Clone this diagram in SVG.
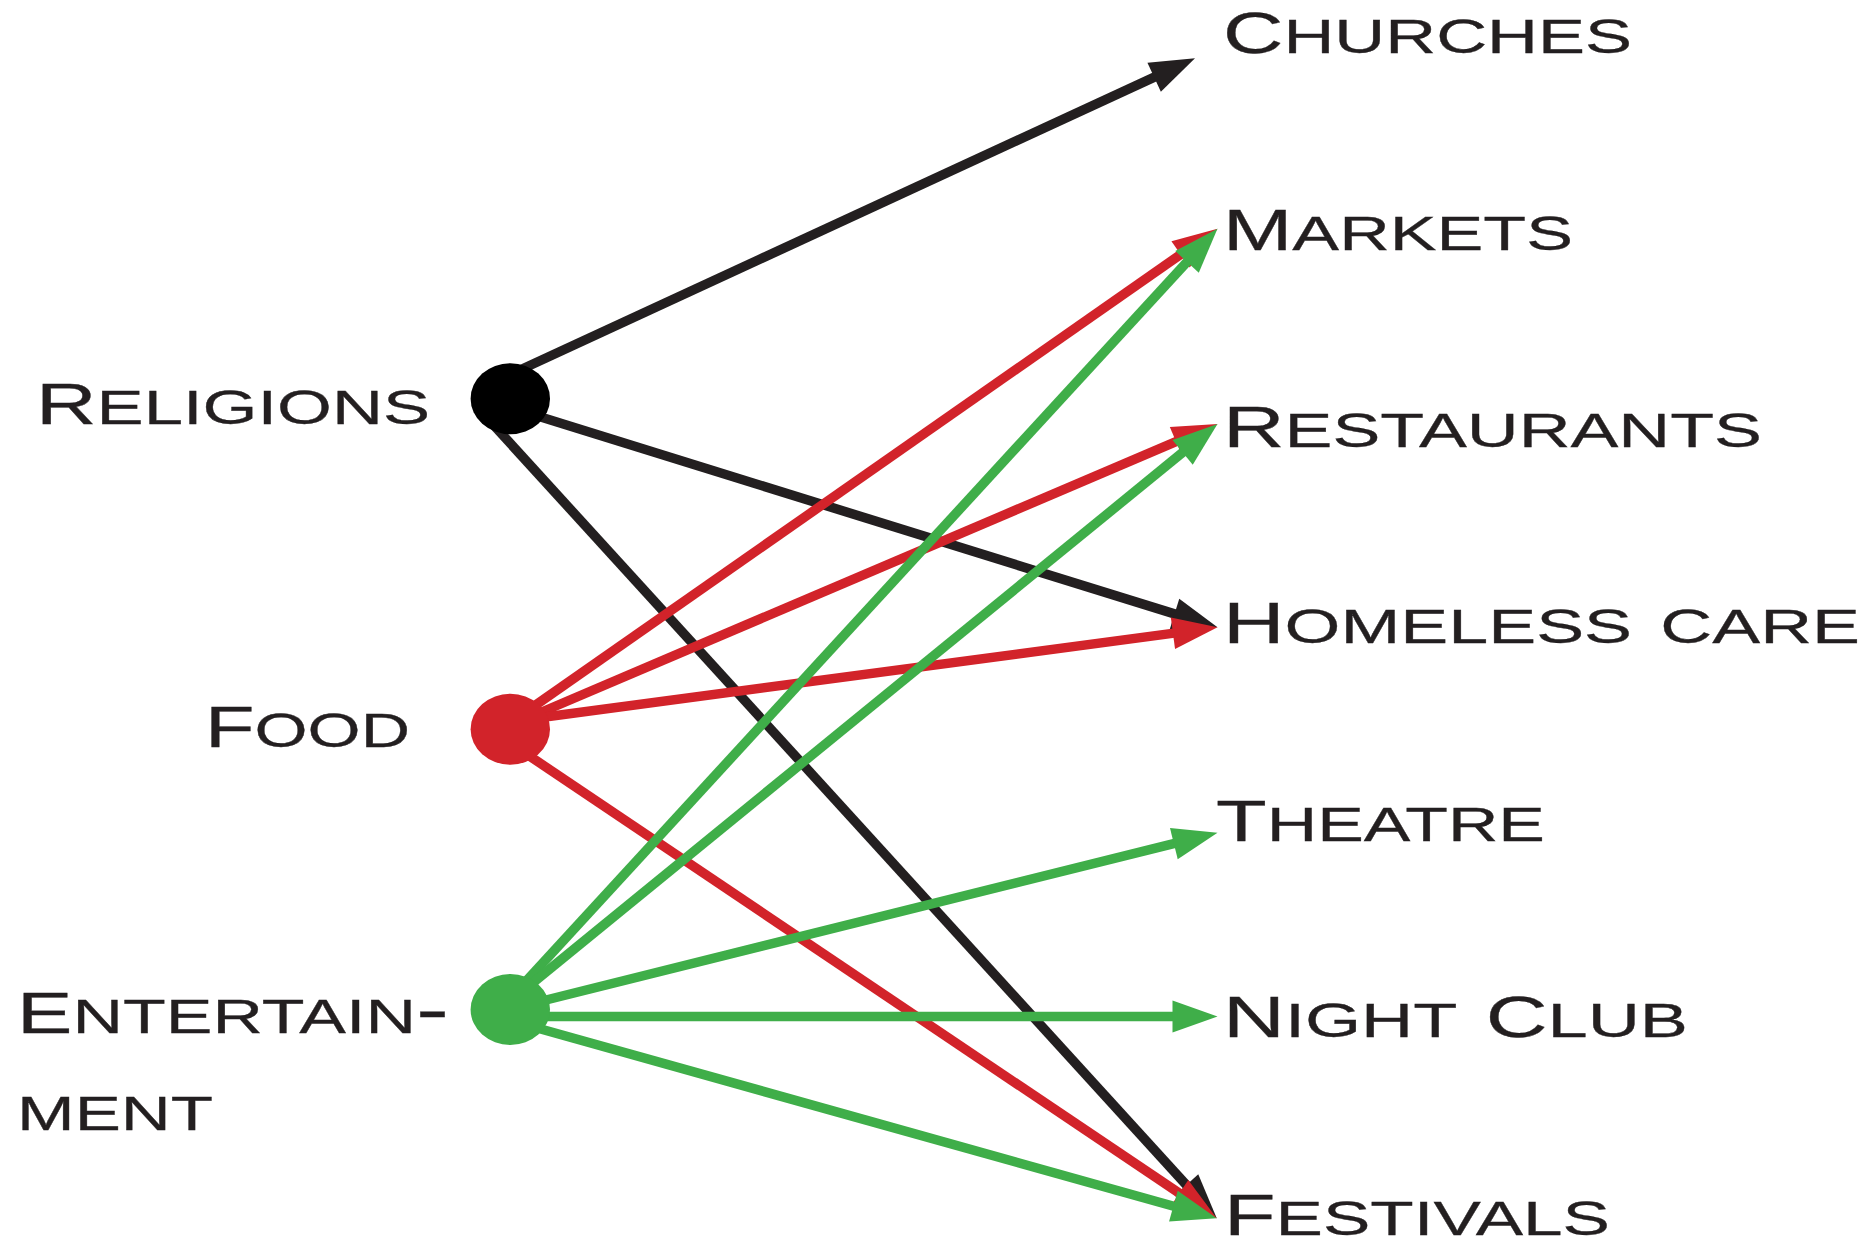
<svg xmlns="http://www.w3.org/2000/svg" width="1865" height="1243" viewBox="0 0 1865 1243">
<style>
.lbl{font-family:"Liberation Sans",Arial,sans-serif;font-size:68px;font-variant:small-caps;fill:#231f20;stroke:#231f20;stroke-width:0.3px}
.C{font-size:57px;font-variant:normal}
.ln{fill:none;stroke-width:9.5;stroke-linecap:butt}
.k{stroke:#231f20;marker-end:url(#ak)}
.r{stroke:#d2232a;marker-end:url(#ar)}
.g{stroke:#3fae49;marker-end:url(#ag)}
</style>
<defs>
<marker id="ak" markerUnits="userSpaceOnUse" markerWidth="46" markerHeight="33" refX="5" refY="16" orient="auto" overflow="visible"><path d="M0,0 L45,16 L0,32 Z" fill="#231f20"/></marker>
<marker id="ar" markerUnits="userSpaceOnUse" markerWidth="46" markerHeight="33" refX="5" refY="16" orient="auto" overflow="visible"><path d="M0,0 L45,16 L0,32 Z" fill="#d2232a"/></marker>
<marker id="ag" markerUnits="userSpaceOnUse" markerWidth="46" markerHeight="33" refX="5" refY="16" orient="auto" overflow="visible"><path d="M0,0 L45,16 L0,32 Z" fill="#3fae49"/></marker>
</defs>
<rect width="1865" height="1243" fill="#ffffff"/>
<g id="connectors">
<path class="ln k" d="M520,370 L1158.7,75.1"/>
<path class="ln k" d="M515,409 L1179.3,615.4"/>
<path class="ln k" d="M489,420 L1189.8,1188.7"/>
<path class="ln r" d="M530,709 L1184.7,251.6"/>
<path class="ln r" d="M530,717 L1180.7,439.7"/>
<path class="ln r" d="M530,719 L1177.9,632.6"/>
<path class="ln r" d="M525,753 L1183.5,1196"/>
<path class="ln g" d="M518,990 L1190.4,258.2"/>
<path class="ln g" d="M524,990 L1186.5,449.3"/>
<path class="ln g" d="M530,1004 L1178.7,842.4"/>
<path class="ln g" d="M530,1016.5 L1177.5,1016.5"/>
<path class="ln g" d="M530,1026 L1178.2,1207.5"/>
</g>
<g id="religions">
<ellipse cx="510.3" cy="398.7" rx="39.7" ry="35.5" fill="#000000"/>
<text class="lbl" x="36" y="424" textLength="394" lengthAdjust="spacingAndGlyphs"><tspan class="C">R</tspan>eligions</text>
</g>
<g id="food">
<ellipse cx="510.3" cy="729.2" rx="39.7" ry="35.5" fill="#d2232a"/>
<text class="lbl" x="205" y="747" textLength="205" lengthAdjust="spacingAndGlyphs"><tspan class="C">F</tspan>ood</text>
</g>
<g id="entertainment">
<ellipse cx="510.3" cy="1009.5" rx="39.7" ry="35.5" fill="#3fae49"/>
<text class="lbl" x="17" y="1033" textLength="432" lengthAdjust="spacingAndGlyphs"><tspan class="C">E</tspan>ntertain-</text>
<text class="lbl" x="17" y="1130" textLength="196" lengthAdjust="spacingAndGlyphs">ment</text>
</g>
<g id="churches">
<text class="lbl" x="1223" y="53" textLength="409" lengthAdjust="spacingAndGlyphs"><tspan class="C">C</tspan>hurches</text>
</g>
<g id="markets">
<text class="lbl" x="1223" y="250" textLength="350" lengthAdjust="spacingAndGlyphs"><tspan class="C">M</tspan>arkets</text>
</g>
<g id="restaurants">
<text class="lbl" x="1223" y="447" textLength="539" lengthAdjust="spacingAndGlyphs"><tspan class="C">R</tspan>estaurants</text>
</g>
<g id="homeless-care">
<text class="lbl" x="1223" y="643" textLength="637" lengthAdjust="spacingAndGlyphs"><tspan class="C">H</tspan>omeless care</text>
</g>
<g id="theatre">
<text class="lbl" x="1216" y="841" textLength="329" lengthAdjust="spacingAndGlyphs"><tspan class="C">T</tspan>heatre</text>
</g>
<g id="night-club">
<text class="lbl" x="1223" y="1037" textLength="465" lengthAdjust="spacingAndGlyphs"><tspan class="C">N</tspan>ight <tspan class="C">C</tspan>lub</text>
</g>
<g id="festivals">
<text class="lbl" x="1224" y="1235" textLength="386" lengthAdjust="spacingAndGlyphs"><tspan class="C">F</tspan>estivals</text>
</g>
</svg>
